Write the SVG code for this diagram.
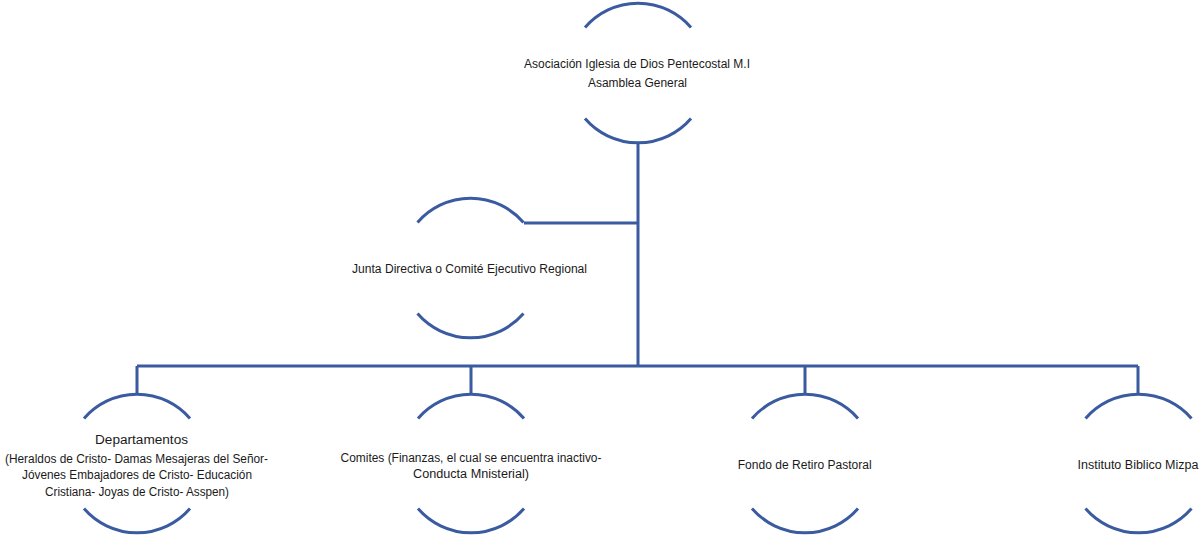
<svg xmlns="http://www.w3.org/2000/svg" width="1199" height="538" viewBox="0 0 1199 538">
<style>
.arc{fill:none;stroke:#3A5BA0;stroke-width:3}
.con{fill:none;stroke:#3A5BA0;stroke-width:3}
text{font-family:"Liberation Sans",Arial,sans-serif;font-size:12.5px;fill:#1a1a1a;text-anchor:middle}
</style>
<rect width="1199" height="538" fill="#ffffff"/>
<g id="connectors">
<path class="con" d="M638 143 V366 M524 223 H638 M137 366 H1138 M137 366 V393 M471 366 V393 M805 366 V393 M1138 366 V393"/>
</g>
<g id="node-asociacion">
<path class="arc" d="M585 27.5 A70 70 0 0 1 691 27.5 M585 118.5 A70 70 0 0 0 691 118.5"/>
<text x="637" y="68" textLength="226" lengthAdjust="spacingAndGlyphs">Asociación Iglesia de Dios Pentecostal M.I</text>
<text x="637.5" y="87" textLength="99" lengthAdjust="spacingAndGlyphs">Asamblea General</text>
</g>
<g id="node-junta">
<path class="arc" d="M417.5 222.5 A70 70 0 0 1 523.5 222.5 M417.5 313.5 A70 70 0 0 0 523.5 313.5"/>
<text x="469.5" y="272.5" textLength="235" lengthAdjust="spacingAndGlyphs">Junta Directiva o Comité Ejecutivo Regional</text>
</g>
<g id="node-departamentos">
<path class="arc" d="M84 418.5 A70 70 0 0 1 190 418.5 M84 508.5 A70 70 0 0 0 190 508.5"/>
<text x="141.5" y="444" textLength="93" lengthAdjust="spacingAndGlyphs">Departamentos</text>
<text x="136.5" y="462.5" textLength="263" lengthAdjust="spacingAndGlyphs">(Heraldos de Cristo- Damas Mesajeras del Señor-</text>
<text x="137" y="479" textLength="230" lengthAdjust="spacingAndGlyphs">Jóvenes Embajadores de Cristo- Educación</text>
<text x="137" y="496" textLength="184" lengthAdjust="spacingAndGlyphs">Cristiana- Joyas de Cristo- Asspen)</text>
</g>
<g id="node-comites">
<path class="arc" d="M418 418.5 A70 70 0 0 1 524 418.5 M418 508.5 A70 70 0 0 0 524 508.5"/>
<text x="471" y="462" textLength="261" lengthAdjust="spacingAndGlyphs">Comites (Finanzas, el cual se encuentra inactivo-</text>
<text x="471" y="477.5" textLength="116" lengthAdjust="spacingAndGlyphs">Conducta Mnisterial)</text>
</g>
<g id="node-fondo">
<path class="arc" d="M752 418.5 A70 70 0 0 1 858 418.5 M752 508.5 A70 70 0 0 0 858 508.5"/>
<text x="804.7" y="469" textLength="134" lengthAdjust="spacingAndGlyphs">Fondo de Retiro Pastoral</text>
</g>
<g id="node-instituto">
<path class="arc" d="M1085.5 418.5 A70 70 0 0 1 1191.5 418.5 M1085.5 508.5 A70 70 0 0 0 1191.5 508.5"/>
<text x="1138" y="469" textLength="121" lengthAdjust="spacingAndGlyphs">Instituto Biblico Mizpa</text>
</g>
</svg>
